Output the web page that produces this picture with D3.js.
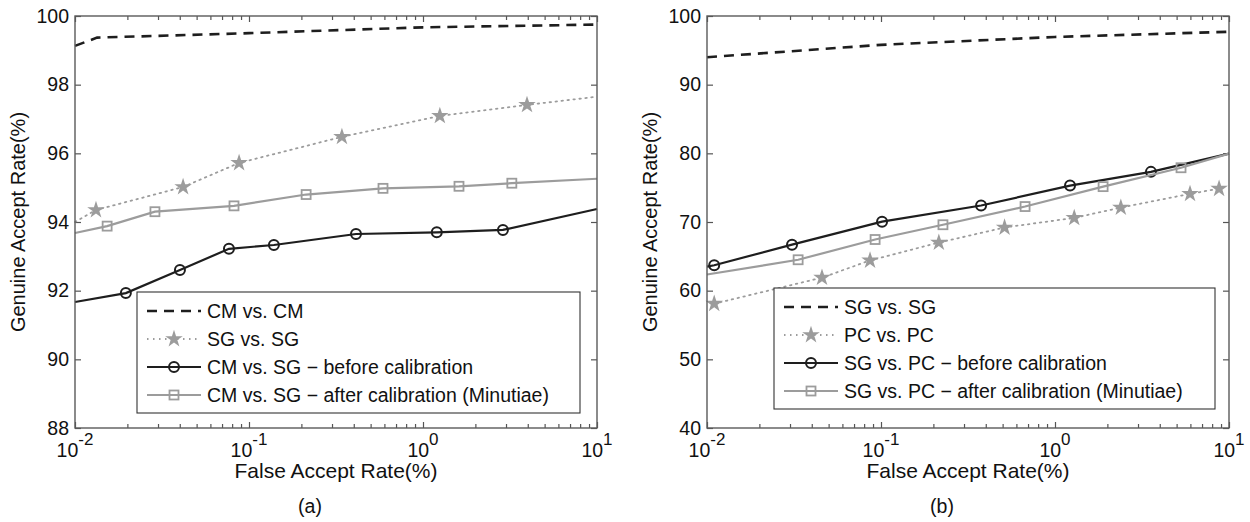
<!DOCTYPE html>
<html>
<head>
<meta charset="utf-8">
<script src="https://cdn.jsdelivr.net/npm/d3@7"></script>
<style>
    body { margin: 0; background: #fff; }
    svg { font-family: "Liberation Sans", Arial, sans-serif; }
</style>
</head>
<body>
<div id="container"></div>
<script>
// ---- panel (a) data: false accept rate (%) vs genuine accept rate (%)
const cmCmFar = [0.01, 0.0134, 0.1, 1, 10];
const cmCmGar = [99.13, 99.37, 99.5, 99.67, 99.75];

const sgSgFar = [0.01, 0.0132, 0.0418, 0.0877, 0.342, 1.25, 3.96, 10];
const sgSgGar = [94.0, 94.35, 95.02, 95.72, 96.48, 97.09, 97.41, 97.65];

const cmSgBeforeFar = [0.01, 0.0196, 0.0401, 0.0767, 0.139, 0.412, 1.20, 2.88, 10];
const cmSgBeforeGar = [91.67, 91.93, 92.6, 93.22, 93.33, 93.65, 93.7, 93.77, 94.38];

const cmSgAfterFar = [0.01, 0.0153, 0.0288, 0.082, 0.213, 0.589, 1.61, 3.24, 10];
const cmSgAfterGar = [93.68, 93.88, 94.3, 94.47, 94.8, 94.98, 95.04, 95.13, 95.26];

// ---- panel (b) data
const sgSgBFar = [0.01, 0.1, 1, 10];
const sgSgBGar = [94.0, 95.8, 96.95, 97.7];

const pcPcFar = [0.011, 0.0458, 0.0865, 0.215, 0.513, 1.29, 2.39, 5.97, 8.77];
const pcPcGar = [58.1, 61.9, 64.4, 67.0, 69.2, 70.6, 72.1, 74.1, 74.85];

const sgPcBeforeFar = [0.01, 0.011, 0.0308, 0.1014, 0.376, 1.22, 3.56, 10];
const sgPcBeforeGar = [63.5, 63.7, 66.7, 70.05, 72.4, 75.3, 77.3, 79.95];

const sgPcAfterFar = [0.01, 0.0334, 0.0925, 0.227, 0.673, 1.89, 5.30, 10];
const sgPcAfterGar = [62.35, 64.5, 67.45, 69.6, 72.25, 75.15, 77.9, 79.95];

const yTicksA = [88, 90, 92, 94, 96, 98, 100];
const yTicksB = [40, 50, 60, 70, 80, 90, 100];
const xMajor = [0.01, 0.1, 1, 10];

const legendA = ["CM vs. CM", "SG vs. SG", "CM vs. SG \u2212 before calibration", "CM vs. SG \u2212 after calibration (Minutiae)"];
const legendB = ["SG vs. SG", "PC vs. PC", "SG vs. PC \u2212 before calibration", "SG vs. PC \u2212 after calibration (Minutiae)"];

const BLACK = "#1e1e1e", GRAY = "#9c9c9c";

// line styles: dashed black, dotted gray w/ stars, solid black w/ circles, solid gray w/ squares
const styles = [
    { stroke: BLACK, width: 2.6, dash: "10,7", marker: null },
    { stroke: GRAY, width: 1.8, dash: "1.5,4.5", marker: "star" },
    { stroke: BLACK, width: 2.2, dash: null, marker: "circle" },
    { stroke: GRAY, width: 2.2, dash: null, marker: "square" }
];

const width = 522, height = 412;

const svg = d3.select("div#container").append("svg")
    .attr("width", 1250)
    .attr("height", 522);

function drawMarker(sel, type, cx, cy) {
    if (type === "circle") {
        sel.append("circle").attr("cx", cx).attr("cy", cy).attr("r", 5)
            .attr("fill", "none").attr("stroke", BLACK).attr("stroke-width", 2);
    } else if (type === "square") {
        sel.append("rect").attr("x", cx - 4.5).attr("y", cy - 4.5)
            .attr("width", 9).attr("height", 9)
            .attr("fill", "none").attr("stroke", GRAY).attr("stroke-width", 1.8);
    } else if (type === "star") {
        sel.append("path").attr("d", d3.symbol(d3.symbolStar, 95)())
            .attr("transform", "translate(" + cx + "," + cy + ")")
            .attr("fill", GRAY);
    }
}

function drawPanel(p) {
    const g = svg.append("g").attr("transform", "translate(" + p.left + "," + p.top + ")");

    const x = d3.scaleLog().domain([0.01, 10]).range([0, width]);
    const y = d3.scaleLinear().domain(p.yDomain).range([height, 0]);
    const minors = x.ticks().filter(v => xMajor.indexOf(v) < 0);

    // inward ticks on all four sides
    const axes = [
        [d3.axisBottom(x).tickValues(xMajor).tickSize(-6), "translate(0," + height + ")"],
        [d3.axisBottom(x).tickValues(minors).tickSize(-4), "translate(0," + height + ")"],
        [d3.axisTop(x).tickValues(xMajor).tickSize(-6), null],
        [d3.axisTop(x).tickValues(minors).tickSize(-4), null],
        [d3.axisRight(y).tickValues(p.yTicks).tickSize(-6), "translate(" + width + ",0)"]
    ];
    axes.forEach(([ax, tr]) => {
        const a = g.append("g").call(ax.tickFormat(""));
        if (tr) a.attr("transform", tr);
        a.select(".domain").remove();
        a.selectAll("line").attr("stroke", "#555").attr("stroke-width", 1.2);
    });

    const yAxis = g.append("g")
        .call(d3.axisLeft(y).tickValues(p.yTicks).tickSize(-6).tickPadding(6));
    yAxis.select(".domain").remove();
    yAxis.selectAll("line").attr("stroke", "#555").attr("stroke-width", 1.2);
    yAxis.selectAll("text")
        .attr("fill", "#111")
        .style("font-size", "19.5px")
        .style("font-family", "'Liberation Sans', Arial, sans-serif");

    // x tick labels as 10^n
    xMajor.forEach(v => {
        const t = g.append("text")
            .attr("x", x(v))
            .attr("y", height + 29)
            .attr("text-anchor", "middle")
            .attr("fill", "#111")
            .style("font-size", "19.5px");
        t.append("tspan").text("10");
        t.append("tspan").attr("dy", -12).style("font-size", "17px")
            .text(String(Math.round(Math.log10(v))));
    });

    // series
    p.series.forEach((s, i) => {
        const st = styles[i];
        const pts = s.far.map((f, k) => [f, s.gar[k]]);
        g.append("path")
            .datum(pts)
            .attr("fill", "none")
            .attr("stroke", st.stroke)
            .attr("stroke-width", st.width)
            .attr("stroke-dasharray", st.dash)
            .attr("stroke-linecap", st.marker === "star" ? "round" : "butt")
            .attr("d", d3.line()
                .x(function(d) { return x(d[0]) })
                .y(function(d) { return y(d[1]) })
            );
        if (st.marker) {
            const mg = g.append("g");
            pts.forEach((d, k) => {
                if (s.noMark && s.noMark.indexOf(k) >= 0) return;
                drawMarker(mg, st.marker, x(d[0]), y(d[1]));
            });
        }
    });

    // frame
    g.append("rect")
        .attr("width", width).attr("height", height)
        .attr("fill", "none").attr("stroke", "#5a5a5a").attr("stroke-width", 1.4);

    // legend
    const lg = g.append("g").attr("transform", "translate(" + p.legendX + "," + p.legendY + ")");
    lg.append("rect")
        .attr("width", p.legendW).attr("height", 121)
        .attr("fill", "#fff").attr("stroke", "#333").attr("stroke-width", 1.1);
    p.legend.forEach((label, i) => {
        const st = styles[i];
        const cy = 19 + i * 28;
        lg.append("line")
            .attr("x1", 10).attr("x2", 64).attr("y1", cy).attr("y2", cy)
            .attr("stroke", st.stroke).attr("stroke-width", st.width)
            .attr("stroke-dasharray", st.dash);
        if (st.marker) drawMarker(lg, st.marker, 37, cy);
        lg.append("text")
            .attr("x", 70).attr("y", cy).attr("dy", "0.36em")
            .attr("fill", "#111")
            .style("font-size", "19.5px")
            .text(label);
    });

    // axis labels
    g.append("text")
        .attr("text-anchor", "middle")
        .attr("transform", "translate(" + (width / 2) + "," + (height + 50) + ")")
        .attr("fill", "#111")
        .style("font-size", "21px")
        .text("False Accept Rate(%)");

    g.append("text")
        .attr("text-anchor", "middle")
        .attr("transform", "translate(" + (p.yLabelX - p.left) + "," + (height / 2) + ")rotate(-90)")
        .attr("fill", "#111")
        .style("font-size", "20px")
        .text("Genuine Accept Rate(%)");

    g.append("text")
        .attr("text-anchor", "middle")
        .attr("x", width / 2 - 26)
        .attr("y", height + 85)
        .attr("fill", "#111")
        .style("font-size", "19.5px")
        .text(p.tag);
}

drawPanel({
    left: 75, top: 16,
    yDomain: [88, 100], yTicks: yTicksA,
    yLabelX: 25,
    legendX: 62, legendY: 276, legendW: 443,
    legend: legendA, tag: "(a)",
    series: [
        { far: cmCmFar, gar: cmCmGar },
        { far: sgSgFar, gar: sgSgGar, noMark: [0, sgSgFar.length - 1] },
        { far: cmSgBeforeFar, gar: cmSgBeforeGar, noMark: [0, cmSgBeforeFar.length - 1] },
        { far: cmSgAfterFar, gar: cmSgAfterGar, noMark: [0, cmSgAfterFar.length - 1] }
    ]
});

drawPanel({
    left: 707, top: 16,
    yDomain: [40, 100], yTicks: yTicksB,
    yLabelX: 657,
    legendX: 67, legendY: 272, legendW: 441,
    legend: legendB, tag: "(b)",
    series: [
        { far: sgSgBFar, gar: sgSgBGar },
        { far: pcPcFar, gar: pcPcGar },
        { far: sgPcBeforeFar, gar: sgPcBeforeGar, noMark: [0, sgPcBeforeFar.length - 1] },
        { far: sgPcAfterFar, gar: sgPcAfterGar, noMark: [0, sgPcAfterFar.length - 1] }
    ]
});
</script>
</body>
</html>
